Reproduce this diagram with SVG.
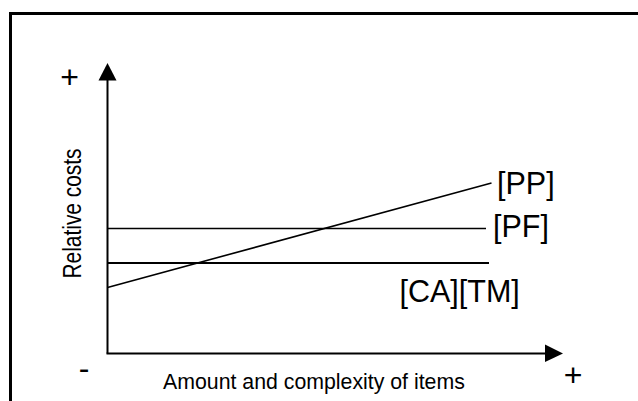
<svg xmlns="http://www.w3.org/2000/svg" width="638" height="401" viewBox="0 0 638 401">
<style>
.t{font-family:"Liberation Sans",Arial,sans-serif;fill:#000}
.ln{stroke:#000;fill:none}
</style>
<rect x="0" y="0" width="638" height="401" fill="#fff"/>
<g id="frame">
<path class="ln" d="M10.5 401 V13.5 H638" stroke-width="3"/>
</g>
<g id="axes">
<line class="ln" x1="107.5" y1="78" x2="107.5" y2="353.5" stroke-width="2"/>
<polygon points="107.5,63 98.5,80.5 116.5,80.5" fill="#000"/>
<line class="ln" x1="106.5" y1="353.5" x2="547" y2="353.5" stroke-width="2"/>
<polygon points="563,353.5 545,344.5 545,362" fill="#000"/>
<text class="t" x="69.5" y="88" font-size="32" text-anchor="middle">+</text>
<text class="t" x="573" y="385.5" font-size="32" text-anchor="middle">+</text>
<text class="t" x="84" y="379" font-size="32" text-anchor="middle">-</text>
<text class="t" x="163" y="388.5" font-size="21.3">Amount and complexity of items</text>
<text class="t" transform="translate(80.5,278.5) rotate(-90)" font-size="26.5" textLength="130" lengthAdjust="spacingAndGlyphs">Relative costs</text>
</g>
<g id="connectors">
<line id="PP-line" class="ln" x1="107.5" y1="287.5" x2="491.5" y2="183" stroke-width="1.6"/>
<line id="PF-line" class="ln" x1="107.5" y1="228.5" x2="486" y2="228.5" stroke-width="1.5"/>
<line id="CATM-line" class="ln" x1="107.5" y1="263" x2="489" y2="263" stroke-width="2"/>
</g>
<g id="PP"><text class="t" x="497" y="193.5" font-size="30.5">[PP]</text></g>
<g id="PF"><text class="t" x="493" y="236.5" font-size="30.5">[PF]</text></g>
<g id="CATM"><text class="t" x="399.5" y="302" font-size="30.5">[CA][TM]</text></g>
</svg>
